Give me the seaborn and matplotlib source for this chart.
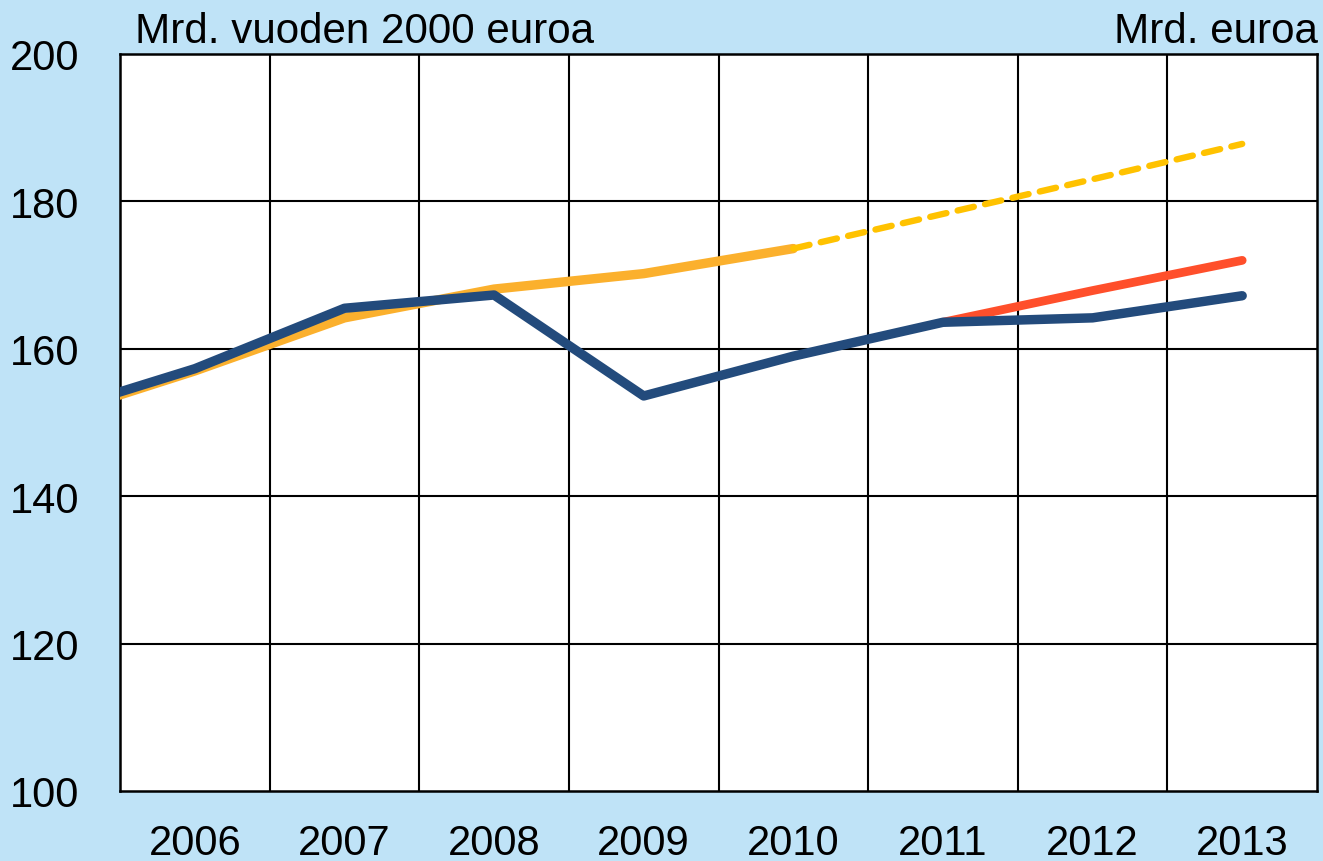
import matplotlib
matplotlib.use("Agg")
import matplotlib.pyplot as plt
import seaborn as sns
import pandas as pd
import numpy as np

# ---- data ----
years = [2005, 2006, 2007, 2008, 2009, 2010, 2011, 2012, 2013]
year_labels = ["2006", "2007", "2008", "2009", "2010", "2011", "2012", "2013"]
actual = [151.0, 157.3, 165.5, 167.3, 153.6, 159.0, 163.6, 164.2, 167.2]          # dark blue
trend_years = [2005, 2006, 2007, 2008, 2009, 2010]
trend = [150.5, 157.0, 164.2, 168.1, 170.2, 173.6]                                # orange
trend_fc_years = [2010, 2011, 2012, 2013]
trend_fc = [173.6, 178.3, 183.0, 187.8]                                           # yellow dashed
nominal_years = [2011, 2012, 2013]
nominal = [163.6, 167.9, 172.0]                                                   # red
y_ticks = [100, 120, 140, 160, 180, 200]

sns.set_theme(style="white")
plt.rcParams['font.family'] = ['Liberation Sans', 'DejaVu Sans']

fig = plt.figure(figsize=(13.23, 8.62), dpi=100)
fig.patch.set_facecolor('#BFE3F7')
ax = fig.add_axes([120/1323, 1-792/862, (1317-120)/1323, (792-55)/862])
ax.set_facecolor('white')

def pos(ys):
    return [y - 2006 for y in ys]

df_trend = pd.DataFrame({"x": pos(trend_years), "y": trend})
df_fc = pd.DataFrame({"x": pos(trend_fc_years), "y": trend_fc})
df_nom = pd.DataFrame({"x": pos(nominal_years), "y": nominal})
df_act = pd.DataFrame({"x": pos(years), "y": actual})

sns.lineplot(data=df_trend, x="x", y="y", ax=ax, color="#FBB02D", linewidth=6.8,
             solid_capstyle="round", zorder=3)
sns.lineplot(data=df_fc, x="x", y="y", ax=ax, color="#FFC200", linewidth=4.6,
             linestyle=(0, (2.6, 1.8)), dash_capstyle="round", zorder=4)
sns.lineplot(data=df_nom, x="x", y="y", ax=ax, color="#FF4F2B", linewidth=6.3,
             solid_capstyle="round", zorder=3)
sns.lineplot(data=df_act, x="x", y="y", ax=ax, color="#234B7C", linewidth=6.8,
             solid_capstyle="round", zorder=5)

ax.set_xlim(-0.5, 7.5)
ax.set_ylim(100, 200)
ax.set_yticks(y_ticks)
ax.set_yticklabels([str(v) for v in y_ticks])
ax.set_xticks(range(len(year_labels)))
ax.set_xticklabels(year_labels)
ax.set_xlabel("")
ax.set_ylabel("")

ax.grid(False)
for xv in np.arange(0.5, 7.0, 1.0):
    ax.axvline(xv, color="black", linewidth=1.5, zorder=1)
for yv in y_ticks[1:-1]:
    ax.axhline(yv, color="black", linewidth=1.5, zorder=1)

for s in ax.spines.values():
    s.set_color("black")
    s.set_linewidth(1.8)
    s.set_visible(True)

ax.tick_params(axis="x", which="both", length=0, pad=23, labelsize=30, colors="black")
ax.tick_params(axis="y", which="both", length=0, pad=29, labelsize=30, colors="black")

fig.text(135/1323, 1-43/862, "Mrd. vuoden 2000 euroa", fontsize=30.3, color="black",
         ha="left", va="baseline")
fig.text(1318/1323, 1-43/862, "Mrd. euroa", fontsize=30.3, color="black",
         ha="right", va="baseline")

fig.savefig("out.png", dpi=100, facecolor=fig.get_facecolor())
